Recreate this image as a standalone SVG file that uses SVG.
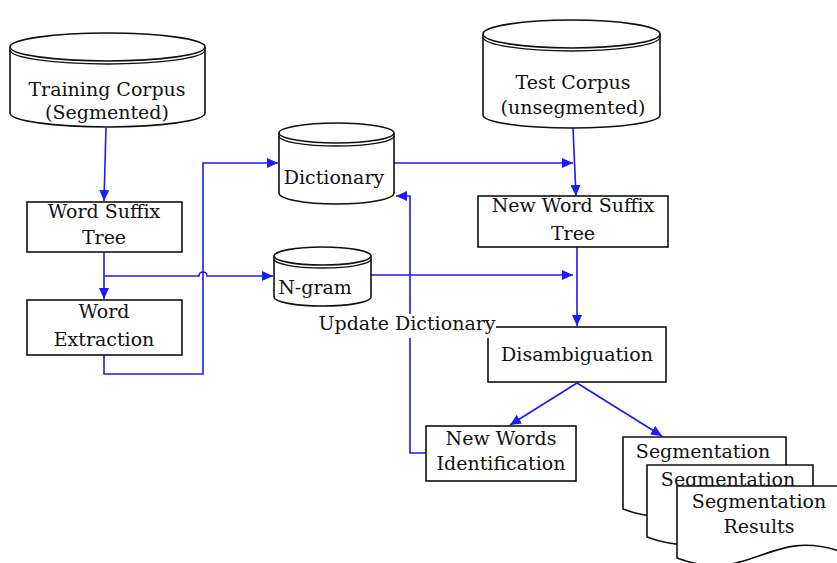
<svg xmlns="http://www.w3.org/2000/svg" width="837" height="563" viewBox="0 0 837 563">
<defs>
<style>
.s{fill:#fff;stroke:#111;stroke-width:1.6}
.n{fill:none;stroke:#111;stroke-width:1.4}
.c{fill:none;stroke:#1a1aff;stroke-width:1.6}
text{font-family:"DejaVu Serif","Liberation Serif",serif;font-size:19px;fill:#111;text-anchor:middle}
</style>
<marker id="ah" markerUnits="userSpaceOnUse" markerWidth="12" markerHeight="10" refX="11" refY="5" orient="auto">
<path d="M0,0 L11,5 L0,10 z" fill="#1a1aff"/>
</marker>
</defs>
<rect width="837" height="563" fill="#fff"/>
<g id="connectors">
<path class="c" d="M106,128 L104,201" marker-end="url(#ah)"/>
<path class="c" d="M104,252 L104,299" marker-end="url(#ah)"/>
<path class="c" d="M104,276 H199 A4,4 0 0 1 207,276 H273" marker-end="url(#ah)"/>
<path class="c" d="M104,355 V374 H203 V163 H278" marker-end="url(#ah)"/>
<path class="c" d="M394,163 H573" marker-end="url(#ah)"/>
<path class="c" d="M573,128 L576,196" marker-end="url(#ah)"/>
<path class="c" d="M371,275 H573" marker-end="url(#ah)"/>
<path class="c" d="M577,247 V326" marker-end="url(#ah)"/>
<path class="c" d="M577,383 L510,425" marker-end="url(#ah)"/>
<path class="c" d="M577,383 L662,436" marker-end="url(#ah)"/>
<path class="c" d="M426,453 H410 V196 H396" marker-end="url(#ah)"/>
</g>
<g id="training-corpus">
<path class="s" d="M10,47 V113 A97.5,14 0 0 0 205,113 V47"/>
<ellipse class="s" cx="107.5" cy="47" rx="97.5" ry="14"/>
<path class="n" d="M10,50 A97.5,14 0 0 0 205,50"/>
<text x="107" y="96">Training Corpus</text>
<text x="107" y="119">(Segmented)</text>
</g>
<g id="word-suffix-tree">
<rect class="s" x="27" y="202" width="155" height="50"/>
<text x="104" y="218">Word Suffix</text>
<text x="104" y="244">Tree</text>
</g>
<g id="word-extraction">
<rect class="s" x="27" y="300" width="155" height="55"/>
<text x="104" y="318">Word</text>
<text x="104" y="346">Extraction</text>
</g>
<g id="dictionary">
<path class="s" d="M279,133 V193 A57.5,11 0 0 0 394,193 V133"/>
<ellipse class="s" cx="336.5" cy="133" rx="57.5" ry="10"/>
<path class="n" d="M279,136 A57.5,10 0 0 0 394,136"/>
<text x="334" y="184">Dictionary</text>
</g>
<g id="n-gram">
<path class="s" d="M274,256 V297 A48.5,9 0 0 0 371,297 V256"/>
<ellipse class="s" cx="322.5" cy="256" rx="48.5" ry="9"/>
<path class="n" d="M274,259 A48.5,9 0 0 0 371,259"/>
<text x="315" y="294">N-gram</text>
</g>
<g id="test-corpus">
<path class="s" d="M483,34 V115 A88.5,13 0 0 0 660,115 V34"/>
<ellipse class="s" cx="571.5" cy="34" rx="88.5" ry="14"/>
<path class="n" d="M483,37 A88.5,14 0 0 0 660,37"/>
<text x="573" y="89">Test Corpus</text>
<text x="573" y="114">(unsegmented)</text>
</g>
<g id="new-word-suffix-tree">
<rect class="s" x="478" y="196" width="190" height="51"/>
<text x="573" y="212">New Word Suffix</text>
<text x="573" y="240">Tree</text>
</g>
<g id="disambiguation">
<rect class="s" x="488" y="327" width="178" height="55"/>
<text x="577" y="361">Disambiguation</text>
</g>
<g id="new-words-identification">
<rect class="s" x="426" y="426" width="150" height="55"/>
<text x="501" y="445">New Words</text>
<text x="501" y="470">Identification</text>
</g>
<g id="segmentation-1">
<path class="s" d="M623,437 H786 V503 C713,477 697,537 623,509 z"/>
<text x="703" y="458">Segmentation</text>
</g>
<g id="segmentation-2">
<path class="s" d="M647,465 H813 V531 C739,505 722,565 647,537 z"/>
<text x="728" y="486">Segmentation</text>
</g>
<g id="segmentation-results">
<path class="s" d="M677,486 H842 V552 C768,526 751,586 677,558 z"/>
<text x="759" y="508">Segmentation</text>
<text x="759" y="533">Results</text>
</g>
<g id="update-dictionary-label">
<rect x="318" y="314" width="178" height="24" fill="#fff"/>
<text x="407" y="330">Update Dictionary</text>
</g>
</svg>
